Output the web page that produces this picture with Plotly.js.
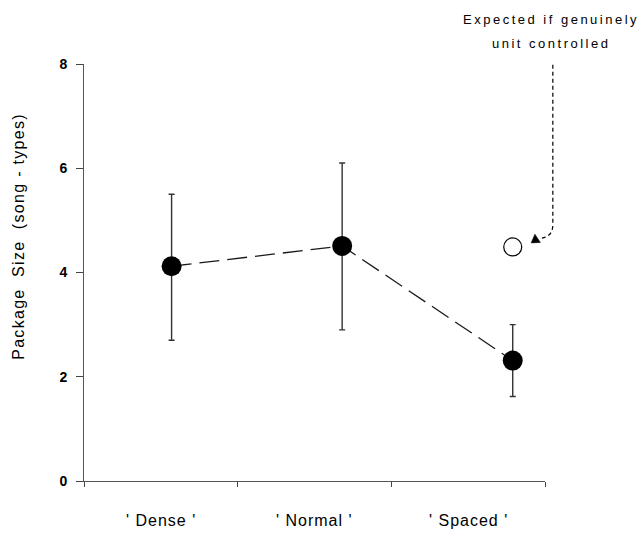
<!DOCTYPE html>
<html>
<head>
<meta charset="utf-8">
<script src="https://cdn.plot.ly/plotly-3.0.1.min.js"></script>
<style>
html,body{margin:0;padding:0;background:#fff;}
#chart{width:642px;height:533px;}
</style>
</head>
<body>
<div id="chart"></div>
<script>
// ---- data ----
var categories = ["' Dense '", "' Normal '", "' Spaced '"];
var categoryCenters = [0.5, 1.5, 2.5];
var xPos = [0.57, 1.68, 2.79];
var packageSize = [4.12, 4.51, 2.31];
var errUpper = [5.5, 6.1, 3.0];
var errLower = [2.7, 2.9, 1.62];
var expectedX = [2.79];
var expectedY = [4.49];
var yTicks = [0, 2, 4, 6, 8];
var xBoundaries = [0, 1, 2, 3];

var plus = packageSize.map(function(v, i){ return errUpper[i] - v; });
var minus = packageSize.map(function(v, i){ return v - errLower[i]; });

var FONT = "Liberation Sans, Arial, sans-serif";

var traces = [
  {
    x: xPos, y: packageSize, type: 'scatter', mode: 'lines',
    line: {color: '#1a1a1a', width: 1.3, dash: '20px,8px'},
    hoverinfo: 'skip', showlegend: false
  },
  {
    x: xPos, y: packageSize, type: 'scatter', mode: 'markers',
    marker: {color: '#000', size: 20, line: {width: 0}},
    error_y: {type: 'data', symmetric: false, array: plus, arrayminus: minus,
              color: '#333', thickness: 1.4, width: 3},
    showlegend: false
  },
  {
    x: expectedX, y: expectedY, type: 'scatter', mode: 'markers',
    marker: {color: '#fff', size: 18, line: {color: '#000', width: 1.2}},
    showlegend: false
  }
];

var annotations = categories.map(function(c, i){
  return {
    x: categoryCenters[i], xref: 'x', y: 0, yref: 'paper',
    yshift: -39, yanchor: 'middle', xanchor: 'center', showarrow: false,
    text: '<span style="letter-spacing:1px">' + c + '</span>',
    font: {family: FONT, size: 16, color: '#000'}
  };
});
annotations.push({
  x: -0.141, xref: 'paper', y: 0.588, yref: 'paper', textangle: -90,
  xanchor: 'center', yanchor: 'middle', showarrow: false,
  text: '<span style="letter-spacing:1.3px">Package  Size  (song - types)</span>',
  font: {family: FONT, size: 16, color: '#000'}
});
annotations.push({
  x: 1.012, xref: 'paper', y: 1.106, yref: 'paper',
  xanchor: 'center', yanchor: 'middle', showarrow: false,
  text: '<span style="letter-spacing:2.5px">Expected if genuinely</span>',
  font: {family: FONT, size: 13, color: '#000'}
});
annotations.push({
  x: 1.012, xref: 'paper', y: 1.048, yref: 'paper',
  xanchor: 'center', yanchor: 'middle', showarrow: false,
  text: '<span style="letter-spacing:2.5px">unit controlled</span>',
  font: {family: FONT, size: 13, color: '#000'}
});

var shapes = [
  {type: 'path', xref: 'paper', yref: 'paper',
   path: 'M 1.017 0.998 L 1.017 0.615 Q 1.017 0.585 0.99 0.582',
   line: {color: '#000', width: 1.2, dash: '4px,3px'}},
  {type: 'path', xref: 'paper', yref: 'paper',
   path: 'M 0.97 0.571 L 0.99 0.572 L 0.978 0.592 Z',
   fillcolor: '#000', line: {color: '#000', width: 0.5}}
];

var layout = {
  width: 642, height: 533,
  margin: {l: 84, r: 97, t: 64, b: 52},
  paper_bgcolor: '#fff', plot_bgcolor: '#fff',
  showlegend: false,
  xaxis: {
    range: [0, 3], tickvals: xBoundaries, showticklabels: false,
    ticks: 'outside', ticklen: 5, tickwidth: 1, tickcolor: '#444',
    showline: true, linecolor: '#555', linewidth: 1,
    showgrid: false, zeroline: false, fixedrange: true
  },
  yaxis: {
    range: [0, 8], tickvals: yTicks,
    ticks: 'outside', ticklen: 7, tickwidth: 1, tickcolor: '#444',
    ticklabelstandoff: 6,
    tickfont: {family: FONT, size: 14, color: '#000', weight: 'bold'},
    showline: true, linecolor: '#555', linewidth: 1,
    showgrid: false, zeroline: false, fixedrange: true
  },
  annotations: annotations,
  shapes: shapes
};

Plotly.newPlot('chart', traces, layout, {displayModeBar: false, staticPlot: true});
</script>
</body>
</html>
